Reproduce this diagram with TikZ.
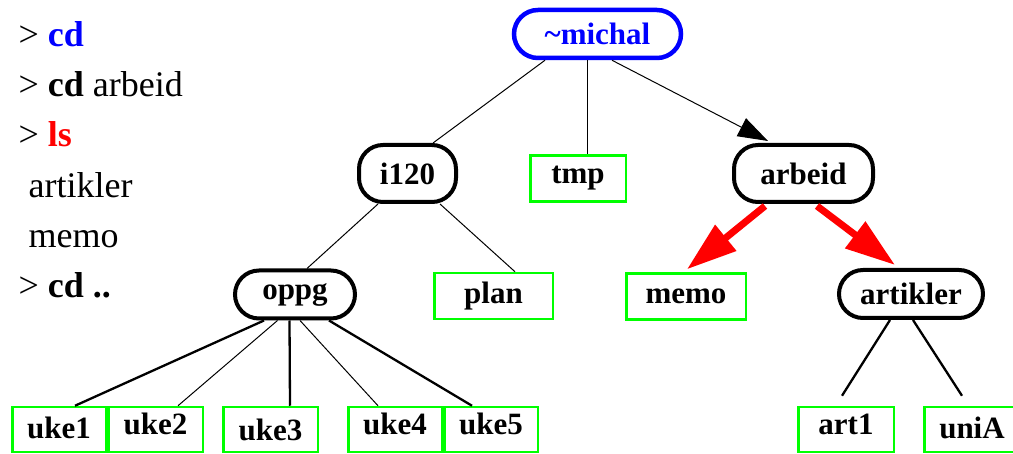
\documentclass[tikz,border=0pt]{standalone}
\usepackage{fontspec}
\setmainfont{Liberation Serif}
\usetikzlibrary{arrows.meta}
\definecolor{dirblue}{RGB}{0,0,255}
\definecolor{filegreen}{RGB}{0,255,0}
\definecolor{cmdred}{RGB}{255,0,0}

\begin{document}
\begin{tikzpicture}[x=1pt, y=-1pt,
  tree/.style={font=\fontsize{31}{36}\selectfont\bfseries},
  dir/.style={tree, draw, line width=4pt, rounded corners=24pt, inner sep=0pt, minimum height=48pt},
  file/.style={draw=filegreen, line width=2.5pt, inner sep=0pt, minimum height=46pt},
  link/.style={line width=1pt},
  thick link/.style={line width=2.3pt},
  move/.style={cmdred, line width=7pt, -{Triangle[length=50pt, width=32pt]}},
  prompt/.style={anchor=base west, font=\fontsize{36}{40}\selectfont}]
  \useasboundingbox (0,0) rectangle (1013,454);

  % shell session
  \node[prompt] (cmd1) at (15,47) {> \textbf{\textcolor{dirblue}{cd}}};
  \node[prompt] (cmd2) at (15,97) {> \textbf{cd} arbeid};
  \node[prompt] (cmd3) at (15,147) {> \textbf{\textcolor{cmdred}{ls}}};
  \node[prompt] (out1) at (25,198) {artikler};
  \node[prompt] (out2) at (25,248) {memo};
  \node[prompt] (cmd4) at (15,298) {> \textbf{cd ..}};

  % directories
  \node[dir, draw=dirblue, text=dirblue, line width=4.5pt, minimum width=167pt] (michal) at (597.5,34) {\textasciitilde michal};
  \node[dir, minimum width=97pt, minimum height=57pt] (i120) at (407.5,173.5) {i120};
  \node[dir, minimum width=139pt, minimum height=57pt] (arbeid) at (803.5,173.5) {arbeid};
  \node[dir, minimum width=120pt] (oppg) at (295,294.5) {oppg};
  \node[dir, minimum width=144pt] (artikler) at (911,294) {artikler};

  % files
  \node[file, tree, minimum width=95.5pt] (tmp) at (578,178.5) {tmp};
  \node[file, tree, minimum width=118.5pt] (plan) at (493.5,296) {plan};
  \node[file, tree, minimum width=119.5pt] (memo) at (686,296.5) {memo};
  \foreach \n/\x/\w/\r in {uke1/59/93.5/2, uke2/155.5/94.5/6, uke3/270.5/94.5/0,
                           uke4/395/93.5/6, uke5/491/93.5/6, art1/846/95.5/5, uniA/972/95.5/2} {
    \node[file, minimum width=\w pt, minimum height=45pt] (\n) at (\x,429.5) {};
    \node[tree, inner sep=0pt] (\n-text) at ([yshift=\r pt]\n.center) {\n};
  }

  % links
  \draw[link] ([xshift=-52.5pt]michal.south) -- ([xshift=25.5pt]i120.north);
  \draw[link] ([xshift=-10.5pt]michal.south) -- ([xshift=9pt]tmp.north);
  \draw[link, -{Triangle[length=30pt, width=20pt]}] ([xshift=14.5pt]michal.south) -- ([xshift=-35.5pt, yshift=2pt]arbeid.north);
  \draw[link] ([xshift=-29.5pt]i120.south) -- ([xshift=12pt]oppg.north);
  \draw[link] ([xshift=32.5pt]i120.south) -- ([xshift=21.5pt]plan.north);
  \draw[thick link] ([xshift=-31pt]oppg.south) -- ([xshift=16pt]uke1.north);
  \draw[link] ([xshift=-17.5pt]oppg.south) -- ([xshift=22.5pt]uke2.north);
  \draw[thick link] ([xshift=-5.5pt]oppg.south) -- ([xshift=19.5pt]uke3.north);
  \draw[link] ([xshift=5pt]oppg.south) -- ([xshift=-17pt]uke4.north);
  \draw[thick link] ([xshift=34pt]oppg.south) -- ([xshift=-19pt]uke5.north);
  \draw[thick link] ([xshift=-21pt]artikler.south) -- ([xshift=-4pt, yshift=10pt]art1.north);
  \draw[thick link] ([xshift=2pt]artikler.south) -- ([xshift=-10pt, yshift=10pt]uniA.north);

  % moves made by the session
  \draw[move] ([xshift=-38.5pt, yshift=-2pt]arbeid.south) -- ([xshift=1pt, yshift=3pt]memo.north);
  \draw[move] ([xshift=13.5pt, yshift=-2pt]arbeid.south) -- ([xshift=-16pt, yshift=3pt]artikler.north);
\end{tikzpicture}
\end{document}
